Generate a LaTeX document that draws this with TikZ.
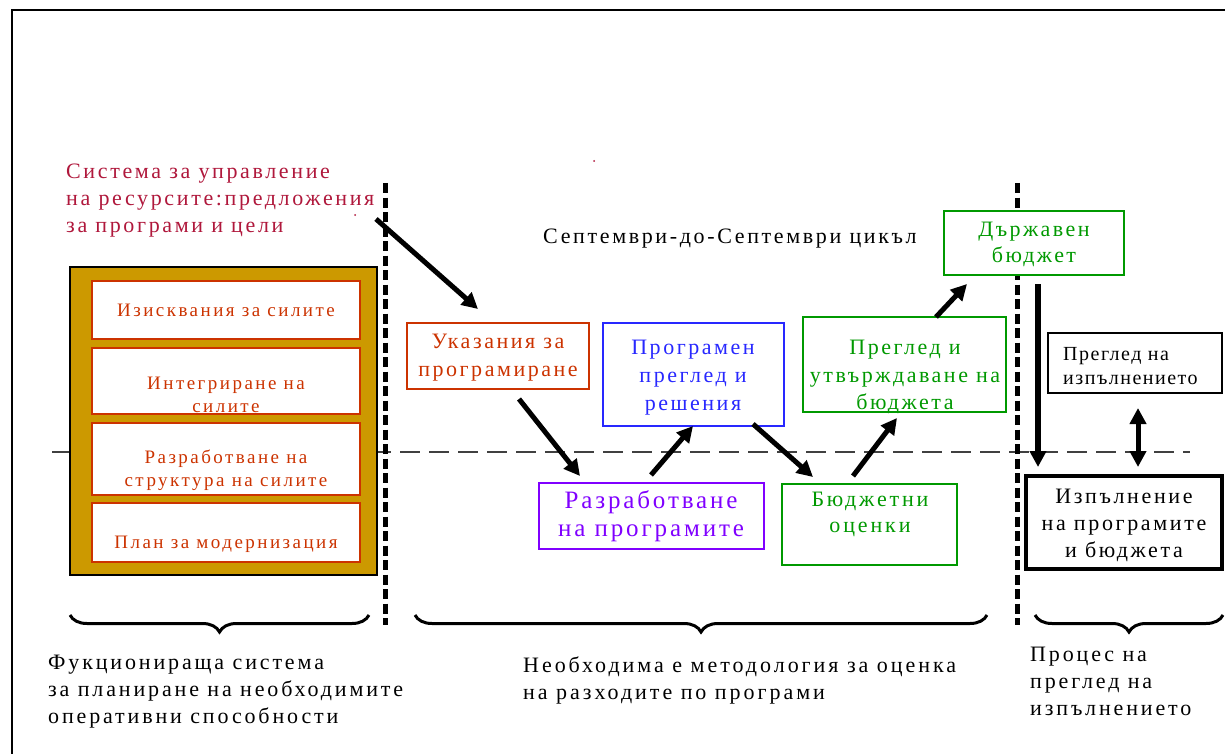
\documentclass[tikz,border=0pt]{standalone}
\usepackage{fontspec}
\setmainfont{Liberation Serif}
\usetikzlibrary{arrows.meta,decorations.pathreplacing,fit}
\definecolor{ttl}{RGB}{176,24,60}
\definecolor{ora}{RGB}{204,51,0}
\definecolor{blu}{RGB}{40,40,255}
\definecolor{vio}{RGB}{128,0,255}
\definecolor{grn}{RGB}{0,153,0}
\definecolor{gld}{RGB}{204,153,0}
\newcommand\fsz[3]{\fontsize{#1}{#2}\selectfont\addfontfeature{LetterSpace=#3}}
\begin{document}
\begin{tikzpicture}[x=1pt,y=-1pt,
  box/.style={draw, line width=2pt, inner sep=0pt, fill=white},
  txt/.style={inner sep=0pt, align=center},
  ltxt/.style={inner sep=0pt, align=left, anchor=west},
  arr/.style={line width=5pt, -{Triangle[length=16pt,width=16pt]}},
  darr/.style={line width=5pt, {Triangle[length=16pt,width=16pt]}-{Triangle[length=16pt,width=16pt]}},
  vsep/.style={line width=5pt, dash pattern=on 10pt off 4.5pt},
  brc/.style={decorate, decoration={brace,mirror,amplitude=17pt}, line width=3pt},
]
\useasboundingbox (0,0) rectangle (1225,754);
\fill[white] (0,0) rectangle (1225,754);
% frame
\draw[line width=2.5pt] (12,760) -- (12,10) -- (1230,10);
% horizontal dashed line
\draw[line width=1.5pt, black!75, dash pattern=on 20pt off 9pt] (52,452) -- (1190,452);
% vertical separators
\coordinate (v1t) at (385,183); \coordinate (v1b) at (385,625);
\coordinate (v2t) at (1017,183); \coordinate (v2b) at (1017,625);
\draw[vsep] (v1t) -- (v1b);
\draw[vsep] (v2t) -- (v2b);
% dots
\fill[ttl] (594,161) circle (1pt);
\fill[ttl] (355,215) circle (1pt);
% title
\node[ltxt, text=ttl, font=\fsz{22}{27}{12}] (title) at (66,201)
  {Система за управление\\на ресурсите:предложения\\за програми и цели};
% gold box
\node[draw, line width=2pt, fill=gld, inner sep=0pt, fit={(70,267) (377,575)}] (gold) {};
\node[box, draw=ora, fit={(92,281) (360,339)}] (b1) {};
\node[box, draw=ora, fit={(92,348) (360,414)}] (b2) {};
\node[box, draw=ora, fit={(92,423) (360,495)}] (b3) {};
\node[box, draw=ora, fit={(92,503) (360,562)}] (b4) {};
\node[txt, text=ora, font=\fsz{19}{23}{13}] (t1) at (226,310) {Изисквания за силите};
\node[txt, text=ora, font=\fsz{19}{23}{13}] (t2) at (226,394.5) {Интегриране на\\силите};
\node[txt, text=ora, font=\fsz{19}{23}{13}] (t3) at (226,470.5) {Разработване на\\структура на силите};
\node[txt, text=ora, font=\fsz{19}{23}{13}] (t4) at (226,544) {План за модернизация};
% middle boxes
\node[box, draw=ora, fit={(407,323) (589,389)}] (uk) {};
\node[txt, text=ora, font=\fsz{22}{28}{11.5}] (tuk) at (498,358) {Указания за\\програмиране};
\node[box, draw=blu, fit={(603,323) (784,426)}] (pr) {};
\node[txt, text=blu, font=\fsz{22}{28}{11.5}] (tpr) at (693,378) {Програмен\\преглед и\\решения};
\node[box, draw=vio, fit={(539,483) (764,549)}] (rz) {};
\node[txt, text=vio, font=\fsz{25}{28}{11.5}] (trz) at (651,516) {Разработване\\на програмите};
\node[box, draw=grn, fit={(944,211) (1124,275)}] (db) {};
\node[txt, text=grn, font=\fsz{22}{26}{11}] (tdb) at (1034,244) {Държавен\\бюджет};
\node[box, draw=grn, fit={(803,317) (1006,412)}] (pu) {};
\node[txt, text=grn, font=\fsz{22}{27.5}{11.5}] (tpu) at (905,377) {Преглед и\\утвърждаване на\\бюджета};
\node[box, draw=grn, fit={(782,484) (957,565)}] (bo) {};
\node[txt, text=grn, font=\fsz{22}{26}{13}] (tbo) at (870,514) {Бюджетни\\оценки};
\node[box, draw=black, fit={(1048,333) (1222,393)}] (pi) {};
\node[ltxt, font=\fsz{20}{24}{7.5}] (tpi) at (1063,366) {Преглед на\\изпълнението};
\node[box, draw=black, line width=4.5pt, fit={(1026,476) (1222,569)}] (iz) {};
\node[txt, font=\fsz{22}{27}{12}] (tiz) at (1124,525) {Изпълнение\\на програмите\\и бюджета};
\node[ltxt, font=\fsz{22}{27}{12}] (cyc) at (543,239) {Септември-до-Септември цикъл};
% arrows
\coordinate (a1s) at (376,219); \coordinate (a1e) at (478,309);
\coordinate (a2s) at (519,399); \coordinate (a2e) at (580,476);
\coordinate (a3s) at (651,475); \coordinate (a3e) at (693,426);
\coordinate (a4s) at (753,424); \coordinate (a4e) at (813,477);
\coordinate (a5s) at (853,476); \coordinate (a5e) at (897,418);
\coordinate (a6s) at (936,317); \coordinate (a6e) at (967,284);
\coordinate (a7s) at (1038,284); \coordinate (a7e) at (1038,467);
\coordinate (a8s) at (1138,408); \coordinate (a8e) at (1138,467);
\draw[arr] (a1s) -- (a1e);
\draw[arr] (a2s) -- (a2e);
\draw[arr] (a3s) -- (a3e);
\draw[arr] (a4s) -- (a4e);
\draw[arr] (a5s) -- (a5e);
\draw[arr] (a6s) -- (a6e);
\draw[arr, line width=6pt] (a7s) -- (a7e);
\draw[darr] (a8s) -- (a8e);
% braces
\coordinate (br1s) at (70,615); \coordinate (br1e) at (369,615);
\coordinate (br2s) at (415,615); \coordinate (br2e) at (987,615);
\coordinate (br3s) at (1035,615); \coordinate (br3e) at (1223,615);
\draw[brc] (br1s) -- (br1e);
\draw[brc] (br2s) -- (br2e);
\draw[brc] (br3s) -- (br3e);
% bottom texts
\node[ltxt, font=\fsz{22}{27}{13}] (bt1) at (48,692)
  {Фукционираща система\\за планиране на необходимите\\оперативни способности};
\node[ltxt, font=\fsz{22}{27}{13.5}] (bt2) at (523,680)
  {Необходима е методология за оценка\\на разходите по програми};
\node[ltxt, font=\fsz{22}{27}{13}] (bt3) at (1030,681)
  {Процес на\\преглед на\\изпълнението};
\end{tikzpicture}
\end{document}
